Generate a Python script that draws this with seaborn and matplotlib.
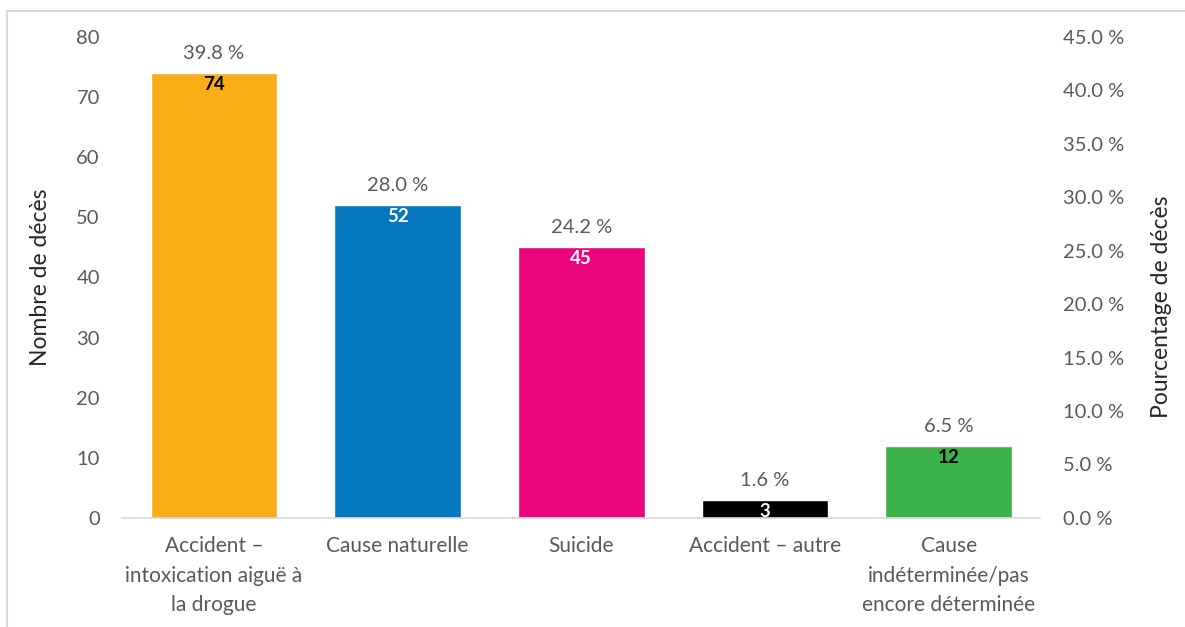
import matplotlib
matplotlib.use("Agg")
import matplotlib.pyplot as plt
from matplotlib.lines import Line2D
import seaborn as sns
import pandas as pd

# Causes of death: counts and share of total
categories = [
    "Accident –\nintoxication aiguë à\nla drogue",
    "Cause naturelle",
    "Suicide",
    "Accident – autre",
    "Cause\nindéterminée/pas\nencore déterminée",
]
counts = [74, 52, 45, 3, 12]
percents = [39.8, 28.0, 24.2, 1.6, 6.5]
bar_colors = ["#FBAD18", "#0678BF", "#EC047E", "#000000", "#3AB44A"]
count_label_colors = ["#000000", "#FFFFFF", "#FFFFFF", "#FFFFFF", "#000000"]
left_ticks = [0, 10, 20, 30, 40, 50, 60, 70, 80]
right_ticks = [0, 5, 10, 15, 20, 25, 30, 35, 40, 45]

sns.set_theme(style="white")
plt.rcParams["font.family"] = ["Lato", "DejaVu Sans"]

TEXT = "#595959"
GRID = "#D9D9D9"
FS = 14.5

df = pd.DataFrame({"cause": categories, "deces": counts})

fig = plt.figure(figsize=(11.85, 6.27), dpi=100)
ax = fig.add_axes([0.103, 0.174, 0.775, 0.767])

sns.barplot(data=df, x="cause", y="deces", hue="cause", palette=bar_colors,
            width=0.69, legend=False, ax=ax, saturation=1)

ax.set_ylim(0, 80)
ax.set_yticks(left_ticks)
ax.set_xlim(-0.5, len(categories) - 0.5)
ax.set_xlabel("")
ax.set_ylabel("Nombre de décès", fontsize=16.5, color="#262626", labelpad=18)
ax.tick_params(axis="y", length=0, pad=16, labelsize=FS, labelcolor=TEXT)
ax.tick_params(axis="x", length=0, pad=13, labelsize=15, labelcolor=TEXT)
for lbl in ax.get_xticklabels():
    lbl.set_linespacing(1.6)
for side in ["top", "right", "left"]:
    ax.spines[side].set_visible(False)
ax.spines["bottom"].set_color(GRID)
ax.spines["bottom"].set_linewidth(1.2)

# Value labels: count inside the bar, percentage above it
for i, (n, p) in enumerate(zip(counts, percents)):
    ax.annotate(f"{n}", (i, n), xytext=(0, -2), textcoords="offset points",
                ha="center", va="top", fontsize=13.5, fontweight="bold",
                color=count_label_colors[i])
    ax.annotate(f"{p:.1f} %", (i, n), xytext=(0, 8), textcoords="offset points",
                ha="center", va="bottom", fontsize=FS, color=TEXT)

# Secondary axis for the percentage scale
ax2 = ax.twinx()
ax2.set_ylim(0, 45)
ax2.set_yticks(right_ticks)
ax2.set_yticklabels([f"{t:.1f} %" for t in right_ticks])
ax2.tick_params(axis="y", length=0, pad=16, labelsize=FS, labelcolor=TEXT)
ax2.set_ylabel("Pourcentage de décès", fontsize=16.5, color="#262626")
ax2.yaxis.set_label_coords(1.12, 0.44)
for side in ["top", "right", "left", "bottom"]:
    ax2.spines[side].set_visible(False)

# Light frame around the chart area
fig.add_artist(Line2D([7 / 1185, 1], [1 - 11 / 627, 1 - 11 / 627],
                      transform=fig.transFigure, color=GRID, lw=1.5))
fig.add_artist(Line2D([7 / 1185, 7 / 1185], [0, 1 - 11 / 627],
                      transform=fig.transFigure, color=GRID, lw=1.5))

fig.savefig("out.png", dpi=100, facecolor="white")
